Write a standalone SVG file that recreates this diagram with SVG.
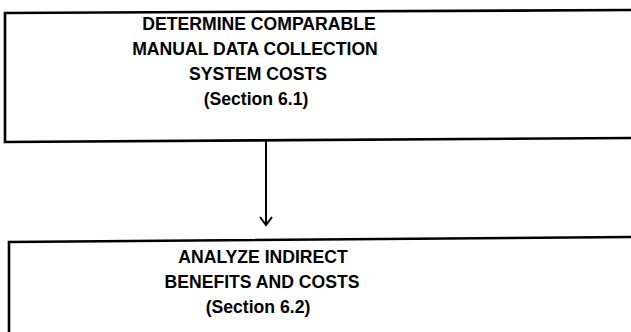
<svg xmlns="http://www.w3.org/2000/svg" width="631" height="332" viewBox="0 0 631 332">
  <defs>
    <style>
      .box { fill: none; stroke: #000; stroke-width: 2.6; stroke-linejoin: miter; }
      .label { font-family: "Liberation Sans", Arial, sans-serif; font-weight: bold; font-size: 17.6px; fill: #000; text-anchor: middle; }
      .conn { fill: none; stroke: #000; stroke-width: 2; }
    </style>
  </defs>
  <rect width="631" height="332" fill="#fff"/>

  <g id="node-manual-costs">
    <path class="box" d="M632,10 L5,13 L5,142 L632,138"/>
    <text class="label" x="259" y="30">DETERMINE COMPARABLE</text>
    <text class="label" x="255" y="55">MANUAL DATA COLLECTION</text>
    <text class="label" x="258" y="80">SYSTEM COSTS</text>
    <text class="label" x="256" y="105">(Section 6.1)</text>
  </g>

  <g id="node-indirect">
    <path class="box" d="M632,237 L9,242 L9,334"/>
    <text class="label" x="263" y="263">ANALYZE INDIRECT</text>
    <text class="label" x="262" y="288">BENEFITS AND COSTS</text>
    <text class="label" x="258" y="313">(Section 6.2)</text>
  </g>

  <g id="connectors">
    <path class="conn" d="M266,141 L266,225"/>
    <path class="conn" d="M260,217 L266,225 L272,217"/>
  </g>
</svg>
